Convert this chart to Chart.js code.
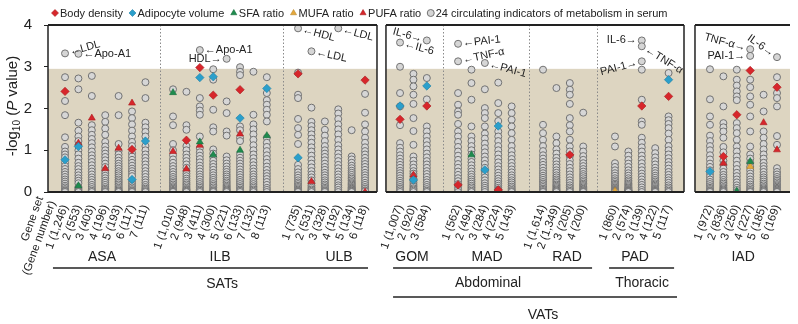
<!DOCTYPE html>
<html>
<head>
<meta charset="utf-8">
<script src="https://cdn.jsdelivr.net/npm/chart.js@4.4.0/dist/chart.umd.min.js"></script>
<style>
  html, body { margin: 0; padding: 0; background: #fff; }
</style>
</head>
<body>
<canvas id="myChart" width="798" height="324"></canvas>
<script>
// gene sets (x categories), grouped by depot
const geneSets = [
    '1 (1,246)', '2 (553)', '3 (403)', '4 (196)', '5 (193)', '6 (117)', '7 (111)',
    '1 (1,010)', '2 (948)', '3 (411)', '4 (300)', '5 (221)', '6 (133)', '7 (132)', '8 (113)',
    '1 (735)', '2 (531)', '3 (328)', '4 (192)', '5 (134)', '6 (118)',
    '1 (1,007)', '2 (920)', '3 (584)',
    '1 (562)', '2 (494)', '3 (284)', '4 (224)', '5 (143)',
    '1 (1,614)', '2 (1,349)', '3 (205)', '4 (200)',
    '1 (860)', '2 (574)', '3 (139)', '4 (122)', '5 (117)',
    '1 (972)', '2 (836)', '3 (250)', '4 (227)', '5 (185)', '6 (169)'
];
const depots = ['ASA', 'ILB', 'ULB', 'GOM', 'MAD', 'RAD', 'PAD', 'IAD'];
const depotSizes = [7, 8, 6, 3, 5, 4, 5, 6];

// -log10(P) of the 24 serum indicators, one row per gene set
const indicators = [
    [3.32, 2.75, 2.18, 1.84, 1.31, 1.08, 0.97, 0.9, 0.83, 0.7, 0.62, 0.55, 0.48, 0.42, 0.36, 0.3, 0.25, 0.2, 0.15, 0.11, 0.07, 0.04, 0.02, 0.0],
    [3.31, 2.72, 2.46, 1.66, 1.47, 1.33, 1.22, 1.12, 1.0, 0.9, 0.8, 0.7, 0.62, 0.55, 0.47, 0.4, 0.33, 0.27, 0.21, 0.12, 0.08, 0.05, 0.02, 0.0],
    [2.78, 2.3, 1.6, 1.48, 1.37, 1.27, 1.17, 1.07, 0.97, 0.88, 0.8, 0.72, 0.64, 0.56, 0.49, 0.42, 0.35, 0.29, 0.23, 0.17, 0.12, 0.07, 0.03, 0.0],
    [1.84, 1.68, 1.52, 1.37, 1.2, 1.09, 1.0, 0.92, 0.84, 0.76, 0.68, 0.6, 0.52, 0.45, 0.39, 0.33, 0.27, 0.22, 0.17, 0.12, 0.08, 0.05, 0.02, 0.0],
    [2.3, 1.84, 1.15, 0.98, 0.9, 0.82, 0.75, 0.68, 0.62, 0.56, 0.5, 0.45, 0.4, 0.35, 0.3, 0.26, 0.22, 0.18, 0.14, 0.1, 0.07, 0.04, 0.02, 0.0],
    [1.93, 1.77, 1.62, 1.47, 1.33, 1.2, 1.1, 0.93, 0.85, 0.77, 0.7, 0.63, 0.56, 0.5, 0.44, 0.38, 0.25, 0.2, 0.15, 0.11, 0.07, 0.04, 0.02, 0.0],
    [2.63, 2.25, 1.66, 1.55, 1.44, 1.33, 1.1, 1.0, 0.9, 0.82, 0.74, 0.66, 0.58, 0.5, 0.43, 0.36, 0.29, 0.23, 0.17, 0.12, 0.08, 0.05, 0.02, 0.0],

    [2.46, 1.81, 1.6, 1.15, 1.0, 0.88, 0.78, 0.7, 0.62, 0.55, 0.48, 0.42, 0.36, 0.31, 0.26, 0.22, 0.18, 0.14, 0.11, 0.08, 0.05, 0.03, 0.01, 0.0],
    [2.4, 1.6, 1.49, 1.1, 1.0, 0.9, 0.82, 0.74, 0.66, 0.58, 0.5, 0.44, 0.38, 0.32, 0.27, 0.22, 0.18, 0.14, 0.1, 0.07, 0.05, 0.03, 0.01, 0.0],
    [3.4, 2.25, 2.05, 1.95, 1.85, 1.33, 1.05, 0.95, 0.87, 0.79, 0.71, 0.63, 0.56, 0.49, 0.42, 0.36, 0.3, 0.24, 0.19, 0.14, 0.1, 0.06, 0.03, 0.0],
    [2.94, 2.69, 1.97, 1.55, 1.45, 1.02, 0.92, 0.83, 0.75, 0.67, 0.6, 0.53, 0.46, 0.4, 0.34, 0.29, 0.24, 0.19, 0.15, 0.11, 0.07, 0.04, 0.02, 0.0],
    [3.19, 2.17, 1.89, 1.45, 1.35, 0.85, 0.76, 0.68, 0.61, 0.54, 0.48, 0.42, 0.37, 0.32, 0.27, 0.23, 0.19, 0.15, 0.12, 0.09, 0.06, 0.04, 0.02, 0.0],
    [2.99, 2.88, 2.8, 1.57, 1.48, 1.3, 1.22, 0.9, 0.82, 0.75, 0.68, 0.61, 0.54, 0.47, 0.41, 0.35, 0.29, 0.24, 0.19, 0.14, 0.1, 0.06, 0.03, 0.0],
    [2.88, 1.85, 1.62, 1.5, 1.38, 1.25, 1.12, 1.0, 0.9, 0.81, 0.72, 0.64, 0.56, 0.49, 0.42, 0.36, 0.3, 0.24, 0.19, 0.14, 0.1, 0.06, 0.03, 0.0],
    [2.75, 2.37, 2.2, 2.09, 1.97, 1.85, 1.69, 1.3, 1.18, 1.08, 0.98, 0.88, 0.79, 0.7, 0.61, 0.53, 0.45, 0.38, 0.31, 0.24, 0.17, 0.1, 0.05, 0.0],

    [3.92, 2.86, 2.33, 2.25, 1.75, 1.53, 1.37, 1.15, 0.65, 0.55, 0.47, 0.4, 0.34, 0.28, 0.23, 0.19, 0.15, 0.12, 0.09, 0.06, 0.04, 0.02, 0.01, 0.0],
    [3.37, 2.02, 1.68, 1.58, 1.48, 1.38, 1.28, 1.18, 1.07, 0.97, 0.87, 0.77, 0.68, 0.59, 0.5, 0.42, 0.35, 0.28, 0.21, 0.15, 0.1, 0.06, 0.03, 0.0],
    [1.69, 1.49, 1.35, 1.22, 1.1, 1.0, 0.92, 0.84, 0.76, 0.68, 0.6, 0.53, 0.46, 0.4, 0.34, 0.28, 0.23, 0.18, 0.14, 0.1, 0.07, 0.04, 0.02, 0.0],
    [3.92, 1.98, 1.88, 1.75, 1.62, 1.5, 1.38, 1.25, 1.12, 1.02, 0.92, 0.83, 0.74, 0.65, 0.57, 0.49, 0.42, 0.35, 0.28, 0.22, 0.16, 0.11, 0.05, 0.0],
    [1.48, 0.85, 0.78, 0.7, 0.63, 0.57, 0.51, 0.46, 0.41, 0.36, 0.32, 0.28, 0.24, 0.21, 0.18, 0.15, 0.12, 0.1, 0.08, 0.06, 0.04, 0.03, 0.01, 0.0],
    [2.35, 1.9, 1.62, 1.45, 1.3, 1.18, 1.07, 0.98, 0.9, 0.82, 0.74, 0.67, 0.6, 0.53, 0.46, 0.4, 0.34, 0.28, 0.22, 0.17, 0.12, 0.08, 0.04, 0.02],

    [3.58, 3.0, 2.37, 2.05, 1.6, 1.17, 1.06, 0.97, 0.88, 0.8, 0.72, 0.65, 0.58, 0.51, 0.45, 0.39, 0.33, 0.27, 0.22, 0.17, 0.12, 0.08, 0.04, 0.0],
    [2.83, 2.69, 2.53, 2.33, 2.11, 1.77, 1.46, 1.13, 0.85, 0.75, 0.66, 0.58, 0.5, 0.44, 0.38, 0.32, 0.27, 0.22, 0.17, 0.13, 0.09, 0.06, 0.03, 0.0],
    [3.63, 2.73, 2.22, 1.57, 1.45, 1.33, 1.22, 1.12, 1.02, 0.92, 0.83, 0.74, 0.66, 0.58, 0.5, 0.43, 0.36, 0.29, 0.23, 0.17, 0.12, 0.07, 0.03, 0.0],

    [3.55, 3.13, 2.37, 2.09, 1.93, 1.85, 1.63, 1.45, 1.33, 1.2, 1.08, 0.97, 0.87, 0.77, 0.67, 0.58, 0.49, 0.41, 0.33, 0.26, 0.19, 0.13, 0.06, 0.0],
    [2.93, 2.61, 2.21, 1.57, 1.33, 1.22, 1.1, 1.0, 0.9, 0.8, 0.72, 0.64, 0.56, 0.49, 0.42, 0.36, 0.3, 0.25, 0.2, 0.15, 0.11, 0.07, 0.03, 0.0],
    [3.09, 2.46, 2.01, 1.89, 1.77, 1.57, 1.4, 1.28, 1.16, 1.05, 0.95, 0.85, 0.76, 0.67, 0.58, 0.5, 0.42, 0.35, 0.28, 0.21, 0.15, 0.1, 0.05, 0.0],
    [2.62, 2.13, 1.89, 1.7, 1.45, 1.33, 1.22, 1.1, 1.0, 0.9, 0.8, 0.71, 0.62, 0.54, 0.46, 0.39, 0.32, 0.26, 0.2, 0.15, 0.1, 0.06, 0.03, 0.0],
    [2.05, 1.89, 1.73, 1.57, 1.41, 1.25, 1.1, 0.98, 0.88, 0.79, 0.7, 0.62, 0.54, 0.47, 0.4, 0.34, 0.28, 0.23, 0.18, 0.13, 0.09, 0.05, 0.02, 0.0],

    [2.93, 1.61, 1.41, 1.25, 1.1, 0.98, 0.88, 0.8, 0.72, 0.65, 0.58, 0.51, 0.45, 0.39, 0.34, 0.29, 0.24, 0.2, 0.16, 0.12, 0.08, 0.05, 0.02, 0.0],
    [2.49, 1.33, 1.17, 1.02, 0.92, 0.82, 0.74, 0.66, 0.59, 0.52, 0.46, 0.4, 0.35, 0.3, 0.26, 0.22, 0.18, 0.15, 0.12, 0.09, 0.06, 0.04, 0.02, 0.0],
    [2.61, 2.45, 2.33, 2.11, 1.77, 1.6, 1.45, 1.25, 1.09, 0.97, 0.86, 0.76, 0.67, 0.58, 0.5, 0.42, 0.35, 0.28, 0.22, 0.16, 0.11, 0.07, 0.03, 0.0],
    [1.9, 1.09, 0.97, 0.86, 0.77, 0.69, 0.62, 0.55, 0.49, 0.43, 0.38, 0.33, 0.28, 0.24, 0.2, 0.17, 0.14, 0.11, 0.08, 0.06, 0.04, 0.02, 0.01, 0.0],

    [1.33, 1.09, 0.69, 0.6, 0.52, 0.45, 0.39, 0.33, 0.28, 0.24, 0.2, 0.17, 0.14, 0.11, 0.09, 0.07, 0.05, 0.04, 0.03, 0.02, 0.01, 0.01, 0.0, 0.0],
    [0.97, 0.87, 0.77, 0.68, 0.6, 0.52, 0.45, 0.39, 0.33, 0.28, 0.24, 0.2, 0.17, 0.14, 0.11, 0.09, 0.07, 0.05, 0.04, 0.03, 0.02, 0.01, 0.0, 0.0],
    [3.63, 3.49, 3.13, 2.93, 2.21, 1.69, 1.61, 1.3, 1.18, 1.07, 0.97, 0.87, 0.78, 0.69, 0.6, 0.52, 0.44, 0.37, 0.3, 0.23, 0.17, 0.11, 0.05, 0.0],
    [1.05, 0.93, 0.83, 0.74, 0.66, 0.58, 0.51, 0.45, 0.39, 0.34, 0.29, 0.25, 0.21, 0.18, 0.15, 0.12, 0.09, 0.07, 0.05, 0.03, 0.02, 0.01, 0.0, 0.0],
    [2.85, 1.81, 1.72, 1.63, 1.53, 1.4, 1.25, 1.1, 1.0, 0.9, 0.81, 0.72, 0.64, 0.56, 0.48, 0.41, 0.34, 0.28, 0.22, 0.16, 0.11, 0.07, 0.03, 0.0],

    [2.94, 2.22, 1.81, 1.61, 1.35, 1.22, 1.1, 1.0, 0.88, 0.78, 0.68, 0.6, 0.52, 0.44, 0.37, 0.3, 0.24, 0.19, 0.14, 0.1, 0.07, 0.04, 0.02, 0.0],
    [2.77, 2.05, 1.65, 1.55, 1.45, 1.3, 1.08, 0.95, 0.75, 0.65, 0.56, 0.48, 0.41, 0.35, 0.29, 0.24, 0.2, 0.16, 0.12, 0.09, 0.06, 0.04, 0.02, 0.0],
    [2.93, 2.69, 2.55, 2.41, 2.29, 2.2, 1.65, 1.53, 1.41, 1.25, 1.09, 0.97, 0.85, 0.75, 0.65, 0.55, 0.46, 0.38, 0.3, 0.23, 0.16, 0.1, 0.05, 0.0],
    [3.42, 3.26, 2.69, 2.51, 2.29, 2.09, 1.81, 1.45, 1.09, 0.9, 0.8, 0.7, 0.6, 0.52, 0.44, 0.37, 0.3, 0.24, 0.18, 0.13, 0.09, 0.05, 0.02, 0.0],
    [2.33, 1.93, 1.45, 1.3, 1.15, 1.02, 0.9, 0.8, 0.7, 0.62, 0.55, 0.48, 0.41, 0.35, 0.3, 0.25, 0.2, 0.16, 0.12, 0.09, 0.06, 0.04, 0.02, 0.0],
    [3.23, 2.75, 2.37, 2.25, 2.05, 1.34, 1.13, 0.57, 0.48, 0.42, 0.36, 0.31, 0.27, 0.23, 0.19, 0.16, 0.13, 0.1, 0.08, 0.06, 0.04, 0.02, 0.01, 0.0]
];

// phenotypes (null = hidden among the circles)
const bodyDensity = [
    2.41, null, null, null, null, 1.02, null,
    null, 1.24, 2.98, 2.32, null, 2.45, null, null,
    2.83, null, null, null, null, 2.68,
    1.74, null, 2.06,
    0.17, null, null, 0.05, null,
    null, null, 0.89, null,
    null, null, 2.06, null, 2.29,
    null, 0.85, 1.85, 2.91, null, 2.51
];
const adipocyteVolume = [
    0.77, 1.09, null, null, null, 0.3, 1.22,
    null, null, 2.74, 2.76, null, 1.77, null, 2.48,
    0.82, null, null, null, null, null,
    2.06, 0.29, 2.54,
    null, null, 0.53, 1.58, null,
    null, null, null, null,
    null, null, null, null, 2.69,
    0.49, null, null, null, null, null
];
const sfaRatio = [
    null, 0.15, null, null, null, null, null,
    2.38, null, 1.2, 0.89, null, 1.0, null, 1.35,
    null, null, null, null, null, null,
    null, null, null,
    null, 0.89, null, null, null,
    null, null, null, null,
    null, null, null, null, null,
    null, null, 0.02, 0.73, null, null
];
const mufaRatio = [
    null, null, null, null, null, null, null,
    null, null, null, null, null, null, null, null,
    null, null, null, null, null, null,
    null, null, null,
    null, null, null, null, null,
    null, null, null, null,
    0.02, null, null, null, null,
    null, null, null, 0.61, null, null
];
const pufaRatio = [
    null, 1.17, 1.77, 0.56, 1.05, 2.13, null,
    0.97, 0.55, 1.12, null, null, 1.39, null, null,
    null, 0.25, null, null, null, 0.0,
    null, 0.41, null,
    null, null, null, null, null,
    null, null, null, null,
    null, null, null, null, null,
    null, 0.69, null, null, 1.66, 1.01
];

// named circles: column, index in indicators[column], text
const callouts = [
    { col: 0, k: 0, text: '\u2190LDL', side: 'right', angle: -15 },
    { col: 1, k: 0, text: '\u2190Apo-A1', side: 'right', angle: 0 },
    { col: 9, k: 0, text: '\u2190Apo-A1', side: 'right', angle: 0 },
    { col: 11, k: 0, text: 'HDL\u2192', side: 'left', angle: 0 },
    { col: 15, k: 0, text: '\u2190HDL', side: 'right', angle: 15 },
    { col: 16, k: 0, text: '\u2190LDL', side: 'right', angle: 12 },
    { col: 18, k: 0, text: '\u2190LDL', side: 'right', angle: 15 },
    { col: 21, k: 0, text: '\u2190IL-6', side: 'right', angle: 15 },
    { col: 23, k: 0, text: 'IL-6\u2192', side: 'left', angle: 15 },
    { col: 24, k: 0, text: '\u2190PAI-1', side: 'right', angle: -6 },
    { col: 24, k: 1, text: '\u2190TNF-\u03b1', side: 'right', angle: -12 },
    { col: 26, k: 0, text: '\u2190PAI-1', side: 'right', angle: 15 },
    { col: 35, k: 0, text: 'IL-6\u2192', side: 'left', angle: 0 },
    { col: 35, k: 1, text: '\u2190TNF-\u03b1', side: 'right', angle: 32 },
    { col: 35, k: 2, text: 'PAI-1\u2192', side: 'left', angle: -15 },
    { col: 41, k: 0, text: 'TNF-\u03b1\u2192', side: 'left', angle: 15 },
    { col: 41, k: 1, text: 'PAI-1\u2192', side: 'left', angle: 0 },
    { col: 43, k: 0, text: 'IL-6\u2192', side: 'left', angle: 35 }
];

// layout in column units (one unit = spacing between two gene sets)
const depotFirstX = [1.27, 9.33, 18.66, 26.27, 30.6, 36.94, 42.31, 49.4];
const depotLabelX = [4.03, 12.84, 21.72, 27.16, 32.76, 38.73, 43.81, 51.87];
const panels = [[0, 24.55], [25.22, 47.46], [48.28, 55.37]];
const separators = [8.36, 17.54, 29.48, 35.9, 40.97];
const shadeTop = 2.95;
const brackets = [
    { from: 0.37, to: 23.88, y: 268, text: 'SATs', tx: 12.99, ty: 284 },
    { from: 25.75, to: 40.6, y: 268, text: 'Abdominal', tx: 32.84, ty: 283 },
    { from: 41.87, to: 46.72, y: 268, text: 'Thoracic', tx: 44.33, ty: 283 },
    { from: 25.75, to: 46.94, y: 297, text: 'VATs', tx: 36.94, ty: 315 }
];

const colX = [];
depotSizes.forEach((n, g) => {
    for (let i = 0; i < n; i++) colX.push(depotFirstX[g] + i);
});
const toPoints = arr => arr.map((v, c) => (v === null ? null : { x: colX[c], y: v })).filter(p => p);
const circlePoints = [];
indicators.forEach((vals, c) => vals.forEach(v => circlePoints.push({ x: colX[c], y: v })));

const FONT = '"Liberation Sans", Arial, Helvetica, sans-serif';
Chart.defaults.font.family = FONT;
Chart.defaults.color = '#222';

const panelPlugin = {
    id: 'panels',
    beforeDatasetsDraw(chart) {
        const { ctx, chartArea, scales: { x, y } } = chart;
        ctx.save();
        ctx.fillStyle = '#ddd5c1';
        panels.forEach(([a, b]) => {
            const l = x.getPixelForValue(a), r = x.getPixelForValue(b);
            const t = y.getPixelForValue(shadeTop), bt = y.getPixelForValue(0);
            ctx.fillRect(l, t, r - l, bt - t);
        });
        ctx.strokeStyle = '#8a8a8a';
        ctx.lineWidth = 1;
        ctx.setLineDash([1.5, 2]);
        separators.forEach(s => {
            const px = Math.round(x.getPixelForValue(s)) + 0.5;
            ctx.beginPath();
            ctx.moveTo(px, chartArea.top);
            ctx.lineTo(px, chartArea.bottom);
            ctx.stroke();
        });
        ctx.restore();
    },
    afterDatasetsDraw(chart) {
        const { ctx, chartArea, scales: { x } } = chart;
        ctx.save();
        ctx.strokeStyle = '#222';
        panels.forEach(([a, b], i) => {
            const l = x.getPixelForValue(a), r = x.getPixelForValue(b);
            ctx.lineWidth = 2;
            ctx.beginPath();
            ctx.moveTo(l, chartArea.top); ctx.lineTo(r, chartArea.top);
            ctx.moveTo(l, chartArea.bottom); ctx.lineTo(r, chartArea.bottom);
            ctx.stroke();
            ctx.lineWidth = 1.5;
            ctx.beginPath();
            ctx.moveTo(l, chartArea.top); ctx.lineTo(l, chartArea.bottom);
            if (i < panels.length - 1) {
                ctx.moveTo(r, chartArea.top); ctx.lineTo(r, chartArea.bottom);
            }
            ctx.stroke();
        });
        ctx.restore();
    },
    afterDraw(chart) {
        const { ctx, scales: { x, y } } = chart;
        ctx.save();

        // legend
        ctx.font = '11px ' + FONT;
        ctx.textBaseline = 'middle';
        ctx.textAlign = 'left';
        let lx = 55;
        const ly = 13;
        chart.data.datasets.forEach(ds => {
            ctx.fillStyle = ds.backgroundColor;
            ctx.strokeStyle = ds.borderColor;
            ctx.lineWidth = ds.borderWidth;
            Chart.helpers.drawPoint(ctx, { pointStyle: ds.pointStyle, radius: 3.5, rotation: 0, borderWidth: ds.borderWidth }, lx, ly);
            ctx.fillStyle = '#222';
            ctx.fillText(ds.label, lx + 5, ly + 0.5);
            lx += 5 + ctx.measureText(ds.label).width + 9.5;
        });

        // callouts
        ctx.fillStyle = '#222';
        ctx.font = '11px ' + FONT;
        callouts.forEach(c => {
            const px = x.getPixelForValue(colX[c.col]);
            const py = y.getPixelForValue(indicators[c.col][c.k]);
            ctx.save();
            ctx.translate(px, py);
            ctx.rotate(c.angle * Math.PI / 180);
            ctx.textAlign = c.side === 'right' ? 'left' : 'right';
            ctx.fillText(c.text, c.side === 'right' ? 5 : -5, 0);
            ctx.restore();
        });

        // depot names
        ctx.font = '14px ' + FONT;
        ctx.textAlign = 'center';
        depots.forEach((d, i) => ctx.fillText(d, x.getPixelForValue(depotLabelX[i]), 257));

        // brackets
        ctx.strokeStyle = '#222';
        ctx.lineWidth = 1.5;
        brackets.forEach(b => {
            ctx.beginPath();
            ctx.moveTo(x.getPixelForValue(b.from), b.y);
            ctx.lineTo(x.getPixelForValue(b.to), b.y);
            ctx.stroke();
            ctx.fillText(b.text, x.getPixelForValue(b.tx), b.ty);
        });

        // y title: -log10 (P value)
        ctx.save();
        ctx.translate(13, 106);
        ctx.rotate(-Math.PI / 2);
        const parts = [
            { t: '-log', f: '15px ' + FONT, dy: 0 },
            { t: '10', f: '10px ' + FONT, dy: 4 },
            { t: ' (', f: '15px ' + FONT, dy: 0 },
            { t: 'P', f: 'italic 15px ' + FONT, dy: 0 },
            { t: ' value)', f: '15px ' + FONT, dy: 0 }
        ];
        let total = 0;
        parts.forEach(p => { ctx.font = p.f; p.w = ctx.measureText(p.t).width; total += p.w; });
        let tx = -total / 2;
        ctx.textAlign = 'left';
        parts.forEach(p => { ctx.font = p.f; ctx.fillText(p.t, tx, p.dy); tx += p.w; });
        ctx.restore();

        // x title
        ctx.save();
        ctx.translate(46, 199);
        ctx.rotate(-70 * Math.PI / 180);
        ctx.font = '11.5px ' + FONT;
        ctx.textAlign = 'right';
        ctx.fillText('Gene set', 0, -6);
        ctx.fillText('(Gene number)', 0, 7);
        ctx.restore();

        ctx.restore();
    }
};

const ctx = document.getElementById('myChart').getContext('2d');
const myChart = new Chart(ctx, {
    type: 'scatter',
    data: {
        datasets: [
            { label: 'Body density', data: toPoints(bodyDensity), pointStyle: 'rectRot', pointRadius: 4.2, backgroundColor: '#d7262b', borderColor: '#a81b1f', borderWidth: 0.6 },
            { label: 'Adipocyte volume', data: toPoints(adipocyteVolume), pointStyle: 'rectRot', pointRadius: 4.2, backgroundColor: '#2b9fcb', borderColor: '#1f7ea3', borderWidth: 0.6 },
            { label: 'SFA ratio', data: toPoints(sfaRatio), pointStyle: 'triangle', pointRadius: 4, backgroundColor: '#1e8c4e', borderColor: '#156b3a', borderWidth: 0.6 },
            { label: 'MUFA ratio', data: toPoints(mufaRatio), pointStyle: 'triangle', pointRadius: 4, backgroundColor: '#e5a83b', borderColor: '#b9862a', borderWidth: 0.6 },
            { label: 'PUFA ratio', data: toPoints(pufaRatio), pointStyle: 'triangle', pointRadius: 4, backgroundColor: '#d7262b', borderColor: '#a81b1f', borderWidth: 0.6 },
            { label: '24 circulating indicators of metabolism in serum', data: circlePoints, pointStyle: 'circle', pointRadius: 3.5, backgroundColor: '#d6d6d6', borderColor: '#727272', borderWidth: 1 }
        ]
    },
    options: {
        responsive: false,
        animation: false,
        devicePixelRatio: 1,
        layout: { padding: { top: 25, right: 8, left: 0, bottom: 0 } },
        plugins: { legend: { display: false }, tooltip: { enabled: false } },
        scales: {
            x: {
                type: 'linear',
                min: 0,
                max: 55.37,
                grid: { display: false },
                border: { display: false },
                afterBuildTicks: scale => { scale.ticks = colX.map(v => ({ value: v })); },
                afterFit: scale => { scale.height = 132; },
                ticks: {
                    autoSkip: false,
                    minRotation: 70,
                    maxRotation: 70,
                    padding: 3,
                    font: { size: 11.5 },
                    callback: (v, i) => geneSets[i]
                }
            },
            y: {
                min: 0,
                max: 4,
                border: { display: false },
                grid: { drawOnChartArea: false, drawTicks: true, tickLength: 4, color: '#222' },
                afterFit: scale => { scale.width = 48; },
                ticks: { stepSize: 1, padding: 12, font: { size: 15 } }
            }
        }
    },
    plugins: [panelPlugin]
});
</script>
</body>
</html>
